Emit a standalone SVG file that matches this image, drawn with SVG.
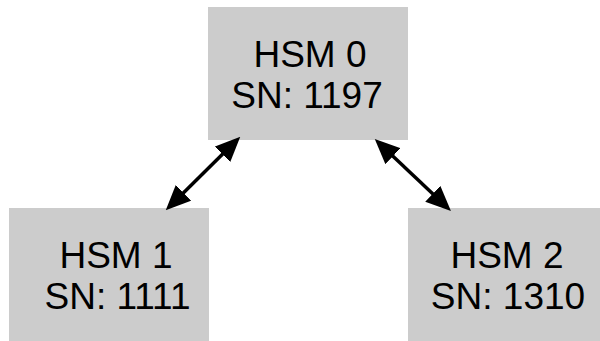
<svg xmlns="http://www.w3.org/2000/svg" width="600" height="341" viewBox="0 0 600 341">
  <style>
    .box { fill: #cccccc; stroke: none; }
    .lbl { font-family: "Liberation Sans", Arial, sans-serif; font-size: 37px; fill: #000000; text-anchor: middle; }
    .edge { stroke: #000000; stroke-width: 3.5; fill: none; marker-start: url(#head); marker-end: url(#head); }
  </style>
  <defs>
    <marker id="head" markerUnits="userSpaceOnUse" viewBox="0 -11 25 22" refX="1" refY="0" markerWidth="25" markerHeight="22" orient="auto-start-reverse">
      <path d="M0,-11 L25,0 L0,11 z" fill="#000000"/>
    </marker>
  </defs>
  <rect width="600" height="341" fill="#ffffff"/>
  <g id="hsm0">
    <rect class="box" x="208" y="7" width="200" height="133"/>
    <text class="lbl" x="310" y="67">HSM 0</text>
    <text class="lbl" x="307" y="108">SN: 1197</text>
  </g>
  <g id="hsm1">
    <rect class="box" x="9" y="208" width="200" height="133"/>
    <text class="lbl" x="116" y="268">HSM 1</text>
    <text class="lbl" x="117.5" y="309">SN: 1111</text>
  </g>
  <g id="hsm2">
    <rect class="box" x="408" y="208" width="200" height="133"/>
    <text class="lbl" x="507" y="268">HSM 2</text>
    <text class="lbl" x="508" y="309">SN: 1310</text>
  </g>
  <g id="connectors">
    <line class="edge" x1="182.8" y1="193.5" x2="223.2" y2="153.6"/>
    <line class="edge" x1="392.2" y1="155.5" x2="433.5" y2="194.5"/>
  </g>
</svg>
